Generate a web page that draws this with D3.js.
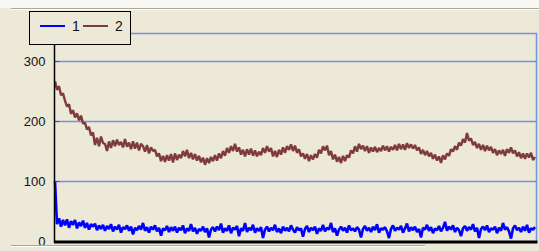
<!DOCTYPE html>
<html>
<head>
<meta charset="utf-8">
<script src="https://cdn.jsdelivr.net/npm/d3@7"></script>
<style>
  body { margin: 0; background: #ECE9D8; }
  svg { display: block; }
</style>
</head>
<body>
<div id="container"></div>
<script>
/* DATA */
const seriesNames = ["1", "2"];
const yTicks = [0, 100, 200, 300];

// series 1 (blue), every ~2px
const series1 = [
  100, 28, 38, 24, 35, 26, 36, 22, 33, 27, 35, 21, 31, 25, 34, 22, 30, 19, 28, 24,
  29, 18, 26, 20, 27, 17, 25, 20, 28, 16, 24, 19, 27, 14, 23, 20, 26, 17, 24, 11,
  22, 18, 25, 19, 30, 17, 23, 14, 24, 19, 26, 16, 22, 9, 21, 18, 25, 15, 23, 17,
  24, 14, 22, 18, 26, 13, 21, 17, 28, 16, 22, 12, 20, 17, 24, 15, 21, 6, 19, 23,
  16, 24, 18, 29, 14, 21, 17, 26, 13, 22, 19, 25, 8, 21, 17, 30, 15, 22, 18, 27,
  14, 21, 17, 23, 5, 19, 24, 16, 22, 18, 27, 15, 21, 13, 24, 17, 22, 16, 26, 19,
  14, 23, 18, 21, 7, 20, 25, 15, 22, 18, 24, 12, 21, 17, 27, 16, 22, 19, 30, 15,
  21, 9, 19, 24, 17, 22, 14, 26, 18, 21, 16, 23, 19, 6, 20, 25, 17, 22, 15, 24,
  18, 28, 14, 21, 19, 23, 16, 5, 20, 26, 17, 22, 19, 25, 14, 21, 29, 16, 23, 18,
  24, 15, 20, 6, 22, 19, 27, 17, 23, 13, 21, 18, 25, 16, 22, 32, 17, 24, 19, 26,
  15, 22, 18, 8, 21, 25, 17, 23, 19, 28, 16, 22, 5, 20, 24, 18, 26, 15, 21, 19,
  24, 13, 22, 17, 30, 19, 23, 16, 4, 21, 26, 18, 22, 15, 24, 17, 27, 14, 21, 19,
  23
];

// series 2 (brown)
const series2 = [
  266, 252, 258, 243, 246, 234, 224, 228, 212, 218, 206, 213, 201, 209, 196, 197, 186, 190, 176, 181,
  160, 172, 158, 174, 163, 162, 150, 166, 155, 168, 158, 169, 160, 165, 156, 170, 157, 164, 153, 166,
  154, 164, 151, 162, 158, 149, 160, 146, 156, 150, 152, 141, 146, 133, 142, 132, 143, 134, 145, 131,
  146, 135, 144, 138, 150, 141, 152, 138, 147, 136, 145, 134, 142, 131, 139, 127, 138, 130, 140, 133,
  143, 134, 146, 138, 150, 142, 155, 147, 158, 150, 162, 149, 156, 144, 152, 141, 153, 144, 154, 142,
  151, 141, 149, 143, 155, 147, 158, 149, 155, 141, 150, 140, 152, 144, 156, 147, 158, 152, 161, 150,
  159, 147, 153, 141, 146, 137, 145, 133, 143, 136, 145, 139, 152, 146, 158, 151, 159, 143, 150, 136,
  144, 132, 140, 130, 142, 133, 143, 139, 151, 146, 158, 149, 162, 153, 159, 150, 158, 147, 156, 149,
  157, 148, 155, 150, 159, 151, 158, 149, 157, 152, 160, 151, 162, 153, 161, 152, 163, 155, 161, 154,
  160, 151, 156, 145, 152, 143, 150, 141, 147, 137, 144, 134, 141, 130, 143, 136, 146, 142, 153, 149,
  158, 152, 164, 159, 170, 164, 180, 167, 171, 160, 165, 155, 162, 152, 160, 150, 159, 151, 157, 147,
  153, 143, 151, 145, 152, 142, 153, 147, 156, 146, 151, 141, 148, 138, 146, 137, 146, 139, 147, 135,
  140
];

const colors = ["#0000FF", "#7F3B3B"];

/* CONSTANTS */
const width = 539,
  height = 251,
  plot = { left: 54.5, right: 536.5, top: 33.5, bottom: 241 };

const svg = d3.select("#container")
  .append("svg")
  .attr("width", width)
  .attr("height", height)
  .style("font-family", "'Liberation Sans', Arial, sans-serif");

// window chrome bits
svg.append("rect").attr("x", 0).attr("y", 0).attr("width", width).attr("height", 8).attr("fill", "#F7F6F1");
svg.append("line").attr("x1", 11).attr("x2", width).attr("y1", 8.5).attr("y2", 8.5).attr("stroke", "#ACA899");
svg.append("line").attr("x1", 11).attr("x2", width).attr("y1", 9.5).attr("y2", 9.5).attr("stroke", "#FFFFFF");

// SCALES
const x = d3.scaleLinear()
  .domain([0, series2.length - 1])
  .range([55, 535]);

const y = d3.scaleLinear()
  .domain([0, 300])
  .range([plot.bottom, 61]);

// gridlines
svg.selectAll("line.grid")
  .data(yTicks.filter(d => d > 0))
  .join("line")
  .attr("class", "grid")
  .attr("x1", plot.left)
  .attr("x2", plot.right)
  .attr("y1", d => Math.round(y(d)) + 0.5)
  .attr("y2", d => Math.round(y(d)) + 0.5)
  .attr("stroke", "#6F95D8")
  .attr("stroke-width", 1.3);

// top + right border
svg.append("path")
  .attr("d", `M${plot.left},${plot.top}H${plot.right}V${plot.bottom}`)
  .attr("fill", "none")
  .attr("stroke", "#6F95D8")
  .attr("stroke-width", 1.5);

// LINES
const lineGen = d3.line()
  .x((d, i) => x(i))
  .y(d => y(d));

svg.append("path")
  .datum(series2)
  .attr("d", lineGen)
  .attr("fill", "none")
  .attr("stroke", colors[1])
  .attr("stroke-width", 2.4)
  .attr("stroke-linejoin", "bevel");

svg.append("path")
  .datum(series1)
  .attr("d", lineGen)
  .attr("fill", "none")
  .attr("stroke", colors[0])
  .attr("stroke-width", 2.6)
  .attr("stroke-linejoin", "bevel");

// AXES
const yAxis = svg.append("g")
  .attr("transform", `translate(${plot.left},0)`)
  .call(d3.axisLeft(y).tickValues(yTicks).tickSizeInner(-5).tickSizeOuter(0).tickPadding(9));

yAxis.select(".domain").remove();
yAxis.selectAll(".tick line").attr("stroke", "#555");
yAxis.selectAll(".tick text")
  .attr("font-size", 13)
  .attr("fill", "#111")
  .attr("font-family", "'Liberation Sans', Arial, sans-serif");

svg.append("line")
  .attr("x1", plot.left).attr("x2", plot.left)
  .attr("y1", 44).attr("y2", plot.bottom + 2)
  .attr("stroke", "#000").attr("stroke-width", 1.5);

svg.append("rect")
  .attr("x", plot.left - 0.5).attr("y", plot.bottom - 0.5)
  .attr("width", plot.right - plot.left + 1.5).attr("height", 3)
  .attr("fill", "#000");

// bottom edge
svg.append("line").attr("x1", 11).attr("x2", 425).attr("y1", 245.5).attr("y2", 245.5).attr("stroke", "#ACA899");
svg.append("line").attr("x1", 11).attr("x2", 425).attr("y1", 246.5).attr("y2", 246.5).attr("stroke", "#FFFFFF");

// LEGEND
const legend = svg.append("g").attr("class", "legend");

legend.append("rect")
  .attr("x", 29.5).attr("y", 11.5)
  .attr("width", 101).attr("height", 33)
  .attr("fill", "#ECE9D8")
  .attr("stroke", "#000");

const items = legend.selectAll("g.item")
  .data(seriesNames)
  .join("g")
  .attr("class", "item")
  .attr("transform", (d, i) => `translate(${40 + i * 43},26)`);

items.append("line")
  .attr("x1", 0).attr("x2", 25)
  .attr("stroke", (d, i) => colors[i])
  .attr("stroke-width", 2);

items.append("text")
  .attr("x", 32)
  .attr("y", 5)
  .attr("font-size", 14)
  .attr("fill", "#111")
  .text(d => d);
</script>
</body>
</html>
